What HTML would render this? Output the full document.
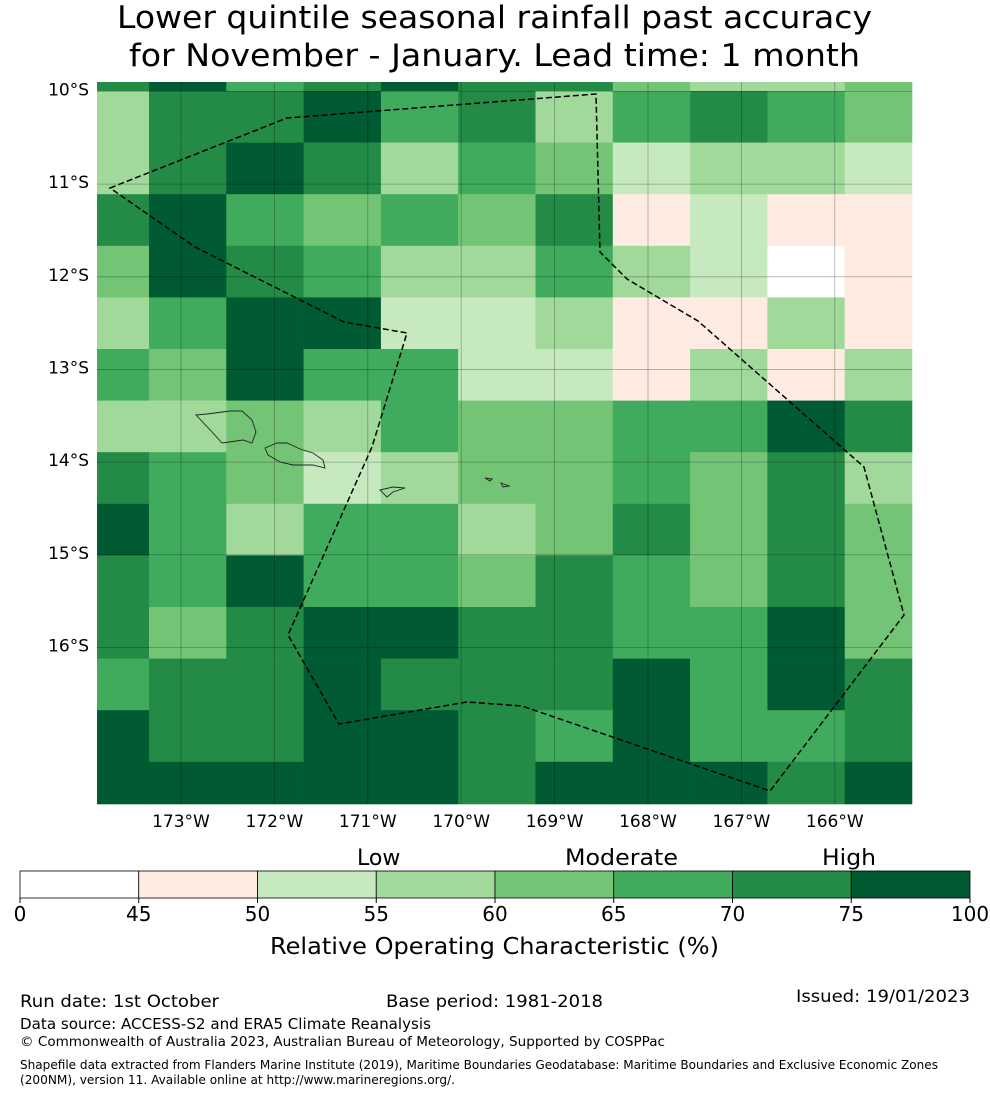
<!DOCTYPE html>
<html><head><meta charset="utf-8"><style>
html,body{margin:0;padding:0;background:#fff;}
svg{display:block;font-family:"DejaVu Sans","Liberation Sans",sans-serif;}
</style></head><body>
<svg id="chart" width="990" height="1095" viewBox="0 0 990 1095" xmlns="http://www.w3.org/2000/svg">
<text x="117" y="28" font-size="31" textLength="755" lengthAdjust="spacingAndGlyphs">Lower quintile seasonal rainfall past accuracy</text>
<text x="129" y="66" font-size="31" textLength="731" lengthAdjust="spacingAndGlyphs">for November - January. Lead time: 1 month</text>
<g id="cells"></g>
<g id="grid"></g>
<g id="islands" fill="none" stroke="#222" stroke-width="0.9">
<path d="M196,415 L207,414 L230,411 L242,411 L252,420 L256,432 L252,443 L243,440 L222,443 L213,433 Z"/>
<path d="M265,448 L277,443 L287,443 L300,449 L313,453 L323,460 L325,468 L313,465 L293,465 L280,462 L268,455 Z"/>
<path d="M380,490 L393,487 L405,488 L393,492 L387,497 Z"/>
<path d="M485,478 L492,479 L490,481 Z"/>
<path d="M501,483 L509,486 L503,487 Z"/>
</g>
<polygon fill="none" stroke="#000" stroke-width="1.5" stroke-dasharray="6,3" points="110,188 287,118 596,94 600,252 627,279 698,321 864,467 904,615 770,791 522,706 467,702 339,724 288,635 372,447 407,333 344,322 195,247"/>
<g id="axes"></g>
<g id="cbar"></g>
<text x="357" y="865" font-size="22">Low</text>
<text x="565" y="865" font-size="22" textLength="113" lengthAdjust="spacingAndGlyphs">Moderate</text>
<text x="822" y="865" font-size="22" textLength="54" lengthAdjust="spacingAndGlyphs">High</text>
<text x="270" y="954" font-size="23" textLength="449" lengthAdjust="spacingAndGlyphs">Relative Operating Characteristic (%)</text>
<text x="20" y="1007" font-size="17" textLength="199" lengthAdjust="spacingAndGlyphs">Run date: 1st October</text>
<text x="386" y="1007" font-size="17" textLength="217" lengthAdjust="spacingAndGlyphs">Base period: 1981-2018</text>
<text x="796" y="1002" font-size="17" textLength="174" lengthAdjust="spacingAndGlyphs">Issued: 19/01/2023</text>
<text x="20" y="1029" font-size="15" textLength="411" lengthAdjust="spacingAndGlyphs">Data source: ACCESS-S2 and ERA5 Climate Reanalysis</text>
<text x="20" y="1046" font-size="13.5" textLength="645" lengthAdjust="spacingAndGlyphs">© Commonwealth of Australia 2023, Australian Bureau of Meteorology, Supported by COSPPac</text>
<text x="20" y="1069" font-size="12" textLength="918" lengthAdjust="spacingAndGlyphs">Shapefile data extracted from Flanders Marine Institute (2019), Maritime Boundaries Geodatabase: Maritime Boundaries and Exclusive Economic Zones</text>
<text x="20" y="1084" font-size="12" textLength="435" lengthAdjust="spacingAndGlyphs">(200NM), version 11. Available online at http://www.marineregions.org/.</text>
</svg>
<script>
// ROC (%) per grid row (top to bottom), 11 columns west to east
const rocRows = [
 [72,80,67,72,80,72,72,62,57,57,62],
 [57,72,72,80,67,72,57,67,72,67,62],
 [57,72,80,72,57,67,62,52,57,57,52],
 [72,80,67,62,67,62,72,47,52,47,47],
 [62,80,72,67,57,57,67,57,52,40,47],
 [57,67,80,80,52,52,57,47,47,57,47],
 [67,62,80,67,67,52,52,47,57,47,57],
 [57,57,62,57,67,62,62,67,67,80,72],
 [72,67,62,52,57,62,62,67,62,72,57],
 [80,67,57,67,67,57,62,72,62,72,62],
 [72,67,80,67,67,62,72,67,62,72,62],
 [72,62,72,80,80,72,72,67,67,80,62],
 [67,72,72,80,72,72,72,80,67,80,72],
 [80,72,72,80,80,72,67,80,67,67,72],
 [80,80,80,80,80,72,80,80,80,72,80]
];
const cbBounds = [0,45,50,55,60,65,70,75,100];
const cbColors = ["#ffffff","#feebe2","#c7e9c0","#a1d99b","#74c476","#41ab5d","#238b45","#005a32"];
const lonTicks = [173,172,171,170,169,168,167,166];
const latTicks = [10,11,12,13,14,15,16];

const NS="http://www.w3.org/2000/svg";
function mk(tag,attrs,parent){const e=document.createElementNS(NS,tag);for(const k in attrs)e.setAttribute(k,attrs[k]);parent.appendChild(e);return e;}
const MX0=97,MX1=912,MY0=82,MY1=804;
function lonX(lon){return 181+(173-lon)*93.4;}
function latY(lat){return 91.5+(lat-10)*92.65;}
function colEdge(i){return Math.max(MX0,Math.min(MX1,149+(i-1)*77.3));}
function rowEdge(j){return Math.max(MY0,Math.min(MY1,91+(j-1)*51.6));}
function colorFor(v){for(let k=0;k<cbColors.length;k++){if(v<cbBounds[k+1])return cbColors[k];}return cbColors[cbColors.length-1];}

const cells=document.getElementById('cells');
rocRows.forEach((row,j)=>{row.forEach((v,i)=>{
 const x0=colEdge(i),x1=colEdge(i+1),y0=rowEdge(j),y1=rowEdge(j+1);
 const r=mk('rect',{x:x0,y:y0,width:x1-x0+0.3,height:y1-y0+0.3,fill:colorFor(v)},cells);
 
 
});});

const grid=document.getElementById('grid');
const axes=document.getElementById('axes');
lonTicks.forEach(l=>{const x=lonX(l);
 const g=mk('line',{x1:x,x2:x,y1:MY0,y2:MY1,stroke:'#000','stroke-opacity':0.3,'stroke-width':0.8},grid);
 
 
 const t=mk('text',{x:x,y:827,'font-size':17,'text-anchor':'middle'},axes);t.textContent=l+'°W';
 
 
});
latTicks.forEach(l=>{const y=latY(l);
 const g=mk('line',{x1:MX0,x2:MX1,y1:y,y2:y,stroke:'#000','stroke-opacity':0.3,'stroke-width':0.8},grid);
 
 
 const t=mk('text',{x:89,y:y+4,'font-size':17,'text-anchor':'end'},axes);t.textContent=l+'°S';
 
 
});

const cb=document.getElementById('cbar');
const CB0=20,CB1=970,CBY=871,CBH=27;
const segW=(CB1-CB0)/cbColors.length;
cbColors.forEach((c,k)=>{
 const r=mk('rect',{x:CB0+k*segW,y:CBY,width:segW,height:CBH,fill:c,stroke:'#000','stroke-width':0.8},cb);
 
 
});
cbBounds.forEach((b,k)=>{const x=CB0+k*segW;
 mk('line',{x1:x,x2:x,y1:CBY+CBH,y2:CBY+CBH+5,stroke:'#000'},cb);
 const t=mk('text',{x:x,y:921,'font-size':20,'text-anchor':'middle'},cb);t.textContent=b;
 
 
});
</script>
</body></html>
